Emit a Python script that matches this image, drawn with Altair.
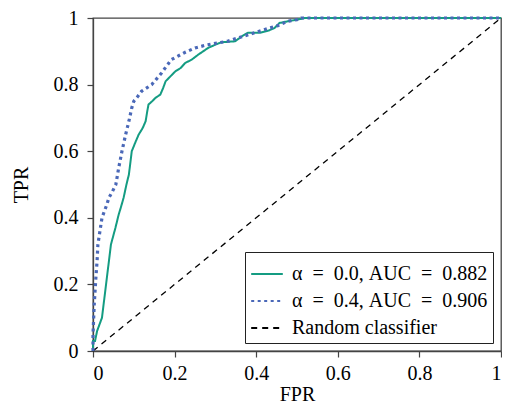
import altair as alt
import pandas as pd

fpr_a0 = [0, 0, 0.005, 0.01, 0.022, 0.028, 0.034, 0.04, 0.044, 0.055, 0.063, 0.068, 0.075, 0.082, 0.088,
          0.095, 0.105, 0.112, 0.122, 0.129, 0.133, 0.136, 0.145, 0.153, 0.165, 0.172, 0.178, 0.19, 0.202,
          0.215, 0.226, 0.242, 0.258, 0.27, 0.282, 0.3, 0.314, 0.348, 0.365, 0.38, 0.41, 0.43, 0.445,
          0.457, 0.477, 0.5, 0.52, 1.0]
tpr_a0 = [0, 0.03, 0.03, 0.06, 0.10, 0.16, 0.22, 0.28, 0.32, 0.37, 0.41, 0.43, 0.46, 0.50, 0.53,
          0.60, 0.63, 0.65, 0.67, 0.69, 0.72, 0.74, 0.75, 0.76, 0.77, 0.79, 0.81, 0.825, 0.84,
          0.85, 0.865, 0.875, 0.89, 0.90, 0.91, 0.92, 0.927, 0.93, 0.945, 0.956, 0.956, 0.962, 0.97,
          0.985, 0.99, 0.995, 1.0, 1.0]

fpr_a4 = [0, 0, 0.003, 0.007, 0.01, 0.012, 0.017, 0.022, 0.034, 0.039, 0.048, 0.056, 0.063, 0.071,
          0.08, 0.088, 0.095, 0.1, 0.11, 0.119, 0.144, 0.168, 0.18, 0.192, 0.226, 0.25, 0.275, 0.3,
          0.33, 0.355, 0.397, 0.428, 0.453, 0.477, 0.5, 0.51, 1.0]
tpr_a4 = [0, 0.05, 0.14, 0.22, 0.27, 0.32, 0.36, 0.40, 0.44, 0.46, 0.48, 0.50, 0.55, 0.60,
          0.65, 0.69, 0.73, 0.75, 0.765, 0.78, 0.80, 0.835, 0.855, 0.875, 0.897, 0.91, 0.918, 0.924,
          0.93, 0.94, 0.956, 0.968, 0.977, 0.99, 0.995, 1.0, 1.0]

fpr_rand = [0, 1]
tpr_rand = [0, 1]

names = ["α\u2002=\u20020.0, AUC\u2002=\u20020.882",
         "α\u2002=\u20020.4, AUC\u2002=\u20020.906",
         "Random classifier"]
widths = [2.0, 3.2, 1.3]

rows = []
for i, (f, t) in enumerate(zip(fpr_rand, tpr_rand)):
    rows.append({"FPR": f, "TPR": t, "series": names[2], "ord": i, "sw": widths[2]})
for i, (f, t) in enumerate(zip(fpr_a0, tpr_a0)):
    rows.append({"FPR": f, "TPR": t, "series": names[0], "ord": i, "sw": widths[0]})
for i, (f, t) in enumerate(zip(fpr_a4, tpr_a4)):
    rows.append({"FPR": f, "TPR": t, "series": names[1], "ord": i, "sw": widths[1]})
df = pd.DataFrame(rows)

FONT = "Liberation Serif"
ticks = [0, 0.2, 0.4, 0.6, 0.8, 1]

leg = alt.Legend(title=None, orient="bottom-right", offset=8)

chart = alt.Chart(df).mark_line().encode(
    x=alt.X("FPR:Q", scale=alt.Scale(domain=[0, 1], nice=False),
            axis=alt.Axis(values=ticks, format="~g", title="FPR")),
    y=alt.Y("TPR:Q", scale=alt.Scale(domain=[0, 1], nice=False),
            axis=alt.Axis(values=ticks, format="~g", title="TPR")),
    color=alt.Color("series:N", scale=alt.Scale(domain=names, range=["#149c82", "#4a68b8", "#000000"]),
                    legend=leg),
    strokeDash=alt.StrokeDash("series:N", scale=alt.Scale(domain=names, range=[[1, 0], [3, 3.5], [6, 5]]),
                              legend=leg),
    strokeWidth=alt.StrokeWidth("sw:Q", scale=None),
    order=alt.Order("ord:Q"),
    detail="series:N",
).properties(
    width=408, height=333,
    autosize=alt.AutoSizeParams(type="none"),
    padding={"left": 85, "top": 10, "right": 1, "bottom": 53},
).configure_view(
    stroke="#444444", strokeWidth=1.3
).configure_axis(
    labelFont=FONT, titleFont=FONT, labelFontSize=20, titleFontSize=20,
    titleFontWeight="normal", labelColor="black", titleColor="black",
    domainColor="#444444", tickColor="#444444", domainWidth=1.3, tickWidth=1.2,
    tickSize=6, grid=False,
).configure_axisX(
    labelPadding=6, titlePadding=1
).configure_axisY(
    labelPadding=9, titlePadding=22
).configure_legend(
    labelFont=FONT, labelFontSize=20, labelColor="black",
    strokeColor="#222222", fillColor="white", padding=5,
    symbolType="stroke", symbolSize=1000, symbolStrokeWidth=2.2,
    rowPadding=0, labelLimit=400, cornerRadius=0, labelOffset=8,
)

chart.save("out.html", embed_options={"renderer": "svg", "actions": False})
